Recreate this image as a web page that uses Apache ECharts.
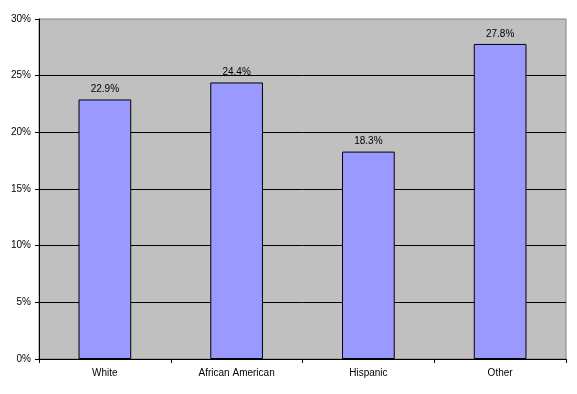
<!DOCTYPE html>
<html><head><meta charset="utf-8">
<script src="https://cdn.jsdelivr.net/npm/echarts@6/dist/echarts.min.js"></script>
<style>html,body{margin:0;padding:0;background:#fff}#c{width:577px;height:394px}</style>
</head><body><div id="c"></div>
<script>
var categories = ["White", "African American", "Hispanic", "Other"];
var values = [22.9, 24.4, 18.3, 27.8];
var yTicks = [0, 5, 10, 15, 20, 25, 30];

var chart = echarts.init(document.getElementById('c'), null, {renderer: 'canvas'});
chart.setOption({
  animation: false,
  backgroundColor: '#ffffff',
  grid: {left: 39, right: 11, top: 19, bottom: 35, show: true, backgroundColor: '#C0C0C0', borderColor: '#808080', borderWidth: 1},
  xAxis: {
    type: 'category', data: categories,
    axisLine: {lineStyle: {color: '#000', width: 1}},
    axisTick: {show: true, length: 4, lineStyle: {color: '#000'}, alignWithLabel: false},
    axisLabel: {color: '#000', fontFamily: 'Liberation Sans, Arial', fontSize: 10, margin: 9}
  },
  yAxis: {
    type: 'value', min: yTicks[0], max: yTicks[yTicks.length - 1], interval: 5,
    axisLine: {show: true, lineStyle: {color: '#000', width: 1}},
    axisTick: {show: true, length: 4, lineStyle: {color: '#000'}},
    axisLabel: {color: '#000', fontFamily: 'Liberation Sans, Arial', fontSize: 10, margin: 8, formatter: '{value}%'},
    splitLine: {show: true, showMaxLine: false, lineStyle: {color: '#000', width: 1}}
  },
  series: [{
    type: 'bar', data: values, barWidth: '40%',
    itemStyle: {color: '#9999FF', borderColor: '#000', borderWidth: 1},
    label: {show: true, position: 'top', distance: 5, color: '#000', fontFamily: 'Liberation Sans, Arial', fontSize: 10, formatter: function(p){return p.value.toFixed(1) + '%';}}
  }]
});
</script></body></html>
